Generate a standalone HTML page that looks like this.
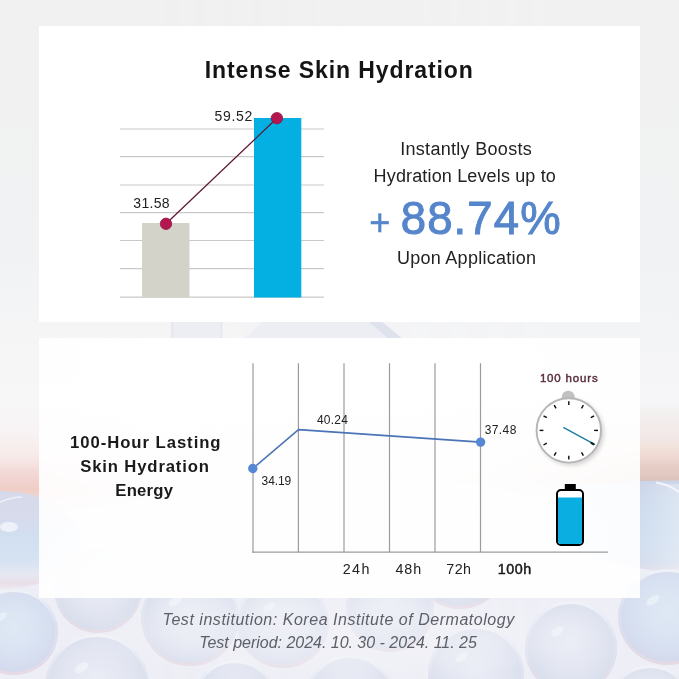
<!DOCTYPE html>
<html lang="en">
<head>
<meta charset="utf-8">
<title>Intense Skin Hydration</title>
<style>
html,body{margin:0;padding:0;}
body{width:679px;height:679px;overflow:hidden;position:relative;background:#f0f0f0;font-family:"Liberation Sans",sans-serif;color:#1a1a1a;}
#bg{position:absolute;left:0;top:0;width:679px;height:679px;}
.card{position:absolute;left:38.6px;width:601.2px;background:#fff;}
#card1{top:25.6px;height:296.2px;}
#card2{top:338.4px;height:259.3px;background:rgba(255,255,255,0.9);}
#gfx{position:absolute;left:0;top:0;width:679px;height:679px;}
.t{position:absolute;white-space:nowrap;line-height:1;}
</style>
</head>
<body>
<svg id="bg" viewBox="0 0 679 679">
  <defs>
    <linearGradient id="bgl" x1="0" y1="0" x2="0" y2="679" gradientUnits="userSpaceOnUse">
      <stop offset="0.0000" stop-color="#f1f1f1"/>
      <stop offset="0.3682" stop-color="#f1f2f3"/>
      <stop offset="0.4418" stop-color="#f3f4f5"/>
      <stop offset="0.4860" stop-color="#f5f5f6"/>
      <stop offset="0.5891" stop-color="#f7f7f8"/>
      <stop offset="0.6333" stop-color="#f8f4f5"/>
      <stop offset="0.6480" stop-color="#f8f0f0"/>
      <stop offset="0.6701" stop-color="#f8ebea"/>
      <stop offset="0.6848" stop-color="#f5e2e0"/>
      <stop offset="0.6951" stop-color="#f3d9d7"/>
      <stop offset="0.7069" stop-color="#f1d3d0"/>
      <stop offset="0.7216" stop-color="#f0cec6"/>
      <stop offset="0.7320" stop-color="#f0d5cf"/>
      <stop offset="0.7541" stop-color="#eeeef6"/>
      <stop offset="1.0000" stop-color="#eeeef6"/>
    </linearGradient>
    <linearGradient id="bgr" x1="0" y1="0" x2="0" y2="679" gradientUnits="userSpaceOnUse">
      <stop offset="0.0000" stop-color="#f1f1f1"/>
      <stop offset="0.3682" stop-color="#f1f2f3"/>
      <stop offset="0.4418" stop-color="#f2f3f5"/>
      <stop offset="0.5891" stop-color="#f6f6f8"/>
      <stop offset="0.6009" stop-color="#f4f2f3"/>
      <stop offset="0.6186" stop-color="#f3eded"/>
      <stop offset="0.6451" stop-color="#f2e7e6"/>
      <stop offset="0.6583" stop-color="#f2e2dc"/>
      <stop offset="0.6701" stop-color="#efdbd4"/>
      <stop offset="0.6848" stop-color="#e7cfc8"/>
      <stop offset="0.7010" stop-color="#e0c8c0"/>
      <stop offset="0.7084" stop-color="#dbc3bb"/>
      <stop offset="0.7158" stop-color="#e0ccc7"/>
      <stop offset="0.7393" stop-color="#eeeef6"/>
      <stop offset="1.0000" stop-color="#eeeef6"/>
    </linearGradient>
    <linearGradient id="fadeh" x1="150" y1="0" x2="560" y2="0" gradientUnits="userSpaceOnUse">
      <stop offset="0" stop-color="#fff" stop-opacity="0"/>
      <stop offset="1" stop-color="#fff" stop-opacity="1"/>
    </linearGradient>
    <mask id="mr" maskUnits="userSpaceOnUse" x="0" y="0" width="679" height="679">
      <rect width="679" height="679" fill="url(#fadeh)"/>
    </mask>
    <radialGradient id="buba" cx="0.5" cy="0.45" r="0.55">
      <stop offset="0" stop-color="#eaedf5"/>
      <stop offset="0.5" stop-color="#e4e7f2"/>
      <stop offset="0.85" stop-color="#dbe0ee"/>
      <stop offset="1" stop-color="#d6dbea"/>
    </radialGradient>
    <radialGradient id="bubc" cx="0.5" cy="0.45" r="0.55">
      <stop offset="0" stop-color="#dfe9f5"/>
      <stop offset="0.5" stop-color="#d9e3f2"/>
      <stop offset="0.85" stop-color="#d5dcee"/>
      <stop offset="1" stop-color="#d4d8eb"/>
    </radialGradient>
    <linearGradient id="rim" x1="0" y1="0" x2="0" y2="1">
      <stop offset="0" stop-color="#ffffff" stop-opacity="0.6"/>
      <stop offset="0.45" stop-color="#f0f0f8" stop-opacity="0.2"/>
      <stop offset="0.8" stop-color="#e9dfe8" stop-opacity="0.5"/>
      <stop offset="1" stop-color="#e9dbe4" stop-opacity="0.85"/>
    </linearGradient>
    <radialGradient id="glow" cx="0.5" cy="0.5" r="0.5">
      <stop offset="0" stop-color="#f4f4f8" stop-opacity="0.55"/>
      <stop offset="0.6" stop-color="#f4f4f8" stop-opacity="0.4"/>
      <stop offset="1" stop-color="#f4f4f8" stop-opacity="0"/>
    </radialGradient>
    <linearGradient id="cen" x1="38" y1="0" x2="640" y2="0" gradientUnits="userSpaceOnUse">
      <stop offset="0" stop-color="#f9f8f9" stop-opacity="0"/>
      <stop offset="0.2" stop-color="#f9f8f9" stop-opacity="0.75"/>
      <stop offset="0.75" stop-color="#f9f8f9" stop-opacity="0.75"/>
      <stop offset="1" stop-color="#f9f8f9" stop-opacity="0"/>
    </linearGradient>
    <linearGradient id="l1" x1="0" y1="492" x2="0" y2="589" gradientUnits="userSpaceOnUse">
      <stop offset="0" stop-color="#d6d9ea"/>
      <stop offset="0.25" stop-color="#d7dbec"/>
      <stop offset="0.45" stop-color="#d1dff1"/>
      <stop offset="0.7" stop-color="#d5e2f2"/>
      <stop offset="0.85" stop-color="#e6e8f2"/>
      <stop offset="0.94" stop-color="#e9dfe8"/>
      <stop offset="1" stop-color="#ede8ef"/>
    </linearGradient>
    <linearGradient id="r1" x1="0" y1="481" x2="0" y2="571" gradientUnits="userSpaceOnUse">
      <stop offset="0" stop-color="#ccd5e8"/>
      <stop offset="0.2" stop-color="#cedbed"/>
      <stop offset="0.6" stop-color="#d0dff0"/>
      <stop offset="0.9" stop-color="#d5dfef"/>
      <stop offset="1" stop-color="#e2dfea"/>
    </linearGradient>
    <linearGradient id="r1h" x1="641" y1="0" x2="679" y2="0" gradientUnits="userSpaceOnUse">
      <stop offset="0" stop-color="#fff" stop-opacity="0"/>
      <stop offset="1" stop-color="#fff" stop-opacity="0.3"/>
    </linearGradient>
  </defs>
  <rect width="679" height="679" fill="url(#bgl)"/>
  <rect width="679" height="679" fill="url(#bgr)" mask="url(#mr)"/>
  <!-- faint product silhouette visible in the gap between cards -->
  <g>
    <rect x="171.5" y="321" width="51" height="18" fill="#eceef4"/>
    <rect x="171.5" y="321" width="1.6" height="18" fill="#e2e5ee"/>
    <rect x="220.5" y="321" width="1.6" height="18" fill="#e4e7ef"/>
    <path d="M244 339 L263 321 L372 321 L401 339 Z" fill="#edeef3"/>
    <path d="M368 321 L381 321 L403 339 L389 339 Z" fill="#dde2ec"/>
  </g>
  <!-- big side bubbles -->
  <ellipse cx="2" cy="540" rx="78" ry="49" fill="url(#l1)"/>
  <ellipse cx="9" cy="527" rx="9" ry="5" fill="#fff" opacity="0.6"/>
  <path d="M0 502 Q 12 497 22 497" stroke="#fff" stroke-width="1.5" fill="none" opacity="0.6"/>
  <path d="M560 486 Q 620 480.5 679 480.5 L679 571 Q 620 573 560 540 Z" fill="url(#r1)"/>
  <rect x="641" y="484" width="38" height="86" fill="url(#r1h)"/>
  <path d="M656 482.5 Q 668 484 679 492" stroke="#fff" stroke-width="2" fill="none" opacity="0.7"/>
  <g>
    <ellipse cx="98" cy="589" rx="44" ry="44" fill="url(#buba)"/>
    <ellipse cx="98" cy="589" rx="42.5" ry="42.5" fill="none" stroke="url(#rim)" stroke-width="3"/>
    <ellipse cx="84.8" cy="573.6" rx="6.6" ry="3.5" fill="#fff" opacity="0.4" transform="rotate(-35 84.8 573.6)"/>
    <ellipse cx="460" cy="563" rx="46" ry="46" fill="url(#buba)"/>
    <ellipse cx="460" cy="563" rx="44.5" ry="44.5" fill="none" stroke="url(#rim)" stroke-width="3"/>
    <ellipse cx="446.2" cy="546.9" rx="6.9" ry="3.7" fill="#fff" opacity="0.4" transform="rotate(-35 446.2 546.9)"/>
    <ellipse cx="14" cy="632" rx="44" ry="43" fill="url(#bubc)"/>
    <ellipse cx="14" cy="632" rx="42.5" ry="41.5" fill="none" stroke="url(#rim)" stroke-width="3"/>
    <ellipse cx="0.8" cy="617.0" rx="6.6" ry="3.4" fill="#fff" opacity="0.4" transform="rotate(-35 0.8 617.0)"/>
    <ellipse cx="668" cy="617" rx="50" ry="48" fill="url(#bubc)"/>
    <ellipse cx="668" cy="617" rx="48.5" ry="46.5" fill="none" stroke="url(#rim)" stroke-width="3"/>
    <ellipse cx="653.0" cy="600.2" rx="7.5" ry="3.8" fill="#fff" opacity="0.4" transform="rotate(-35 653.0 600.2)"/>
    <ellipse cx="190" cy="618" rx="49" ry="48" fill="url(#buba)"/>
    <ellipse cx="190" cy="618" rx="47.5" ry="46.5" fill="none" stroke="url(#rim)" stroke-width="3"/>
    <ellipse cx="175.3" cy="601.2" rx="7.3" ry="3.8" fill="#fff" opacity="0.4" transform="rotate(-35 175.3 601.2)"/>
    <ellipse cx="283" cy="623" rx="46" ry="45" fill="url(#buba)"/>
    <ellipse cx="283" cy="623" rx="44.5" ry="43.5" fill="none" stroke="url(#rim)" stroke-width="3"/>
    <ellipse cx="269.2" cy="607.2" rx="6.9" ry="3.6" fill="#fff" opacity="0.4" transform="rotate(-35 269.2 607.2)"/>
    <ellipse cx="390" cy="608" rx="44" ry="44" fill="url(#buba)"/>
    <ellipse cx="390" cy="608" rx="42.5" ry="42.5" fill="none" stroke="url(#rim)" stroke-width="3"/>
    <ellipse cx="376.8" cy="592.6" rx="6.6" ry="3.5" fill="#fff" opacity="0.4" transform="rotate(-35 376.8 592.6)"/>
    <ellipse cx="571" cy="648" rx="46" ry="47" fill="url(#buba)"/>
    <ellipse cx="571" cy="648" rx="44.5" ry="45.5" fill="none" stroke="url(#rim)" stroke-width="3"/>
    <ellipse cx="557.2" cy="631.5" rx="6.9" ry="3.8" fill="#fff" opacity="0.4" transform="rotate(-35 557.2 631.5)"/>
    <ellipse cx="97" cy="686" rx="52" ry="52" fill="url(#buba)"/>
    <ellipse cx="97" cy="686" rx="50.5" ry="50.5" fill="none" stroke="url(#rim)" stroke-width="3"/>
    <ellipse cx="81.4" cy="667.8" rx="7.8" ry="4.2" fill="#fff" opacity="0.4" transform="rotate(-35 81.4 667.8)"/>
    <ellipse cx="476" cy="674" rx="48" ry="48" fill="url(#buba)"/>
    <ellipse cx="476" cy="674" rx="46.5" ry="46.5" fill="none" stroke="url(#rim)" stroke-width="3"/>
    <ellipse cx="461.6" cy="657.2" rx="7.2" ry="3.8" fill="#fff" opacity="0.4" transform="rotate(-35 461.6 657.2)"/>
    <ellipse cx="235" cy="702" rx="42" ry="42" fill="url(#buba)"/>
    <ellipse cx="235" cy="702" rx="40.5" ry="40.5" fill="none" stroke="url(#rim)" stroke-width="3"/>
    <ellipse cx="222.4" cy="687.3" rx="6.3" ry="3.4" fill="#fff" opacity="0.4" transform="rotate(-35 222.4 687.3)"/>
    <ellipse cx="350" cy="700" rx="45" ry="45" fill="url(#buba)"/>
    <ellipse cx="350" cy="700" rx="43.5" ry="43.5" fill="none" stroke="url(#rim)" stroke-width="3"/>
    <ellipse cx="336.5" cy="684.2" rx="6.8" ry="3.6" fill="#fff" opacity="0.4" transform="rotate(-35 336.5 684.2)"/>
    <ellipse cx="650" cy="707" rx="42" ry="42" fill="url(#buba)"/>
    <ellipse cx="650" cy="707" rx="40.5" ry="40.5" fill="none" stroke="url(#rim)" stroke-width="3"/>
    <ellipse cx="637.4" cy="692.3" rx="6.3" ry="3.4" fill="#fff" opacity="0.4" transform="rotate(-35 637.4 692.3)"/>
  </g>
  <ellipse cx="338" cy="634" rx="260" ry="48" fill="url(#glow)"/>
  <rect x="38" y="338" width="602" height="260" fill="url(#cen)"/>
</svg>
<div class="card" id="card1"></div>
<div class="card" id="card2"></div>
<svg id="gfx" viewBox="0 0 679 679">
  <!-- bar chart grid -->
  <g stroke="#c9c9c9" stroke-width="1.1">
    <line x1="120" y1="129.0" x2="324" y2="129.0"/>
    <line x1="120" y1="156.6" x2="324" y2="156.6"/>
    <line x1="120" y1="185.0" x2="324" y2="185.0"/>
    <line x1="120" y1="212.6" x2="324" y2="212.6"/>
    <line x1="120" y1="240.5" x2="324" y2="240.5"/>
    <line x1="120" y1="268.6" x2="324" y2="268.6"/>
    <line x1="120" y1="297.1" x2="324" y2="297.1"/>
  </g>
  <rect x="142" y="223" width="47.5" height="74.5" fill="#d3d3c9"/>
  <rect x="254" y="118" width="47.3" height="179.5" fill="#04b0e2"/>
  <line x1="166" y1="223.8" x2="276.9" y2="118.2" stroke="#5c1634" stroke-width="1.25"/>
  <circle cx="166" cy="223.8" r="5.7" fill="#b4174f" stroke="#951444" stroke-width="0.8"/>
  <circle cx="276.9" cy="118.2" r="5.7" fill="#b4174f" stroke="#951444" stroke-width="0.8"/>

  <!-- line chart -->
  <g stroke="#9b9b9f" stroke-width="1.2">
    <line x1="253" y1="363.2" x2="253" y2="552.4"/>
    <line x1="298.4" y1="363.2" x2="298.4" y2="552.4"/>
    <line x1="344" y1="363.2" x2="344" y2="552.4"/>
    <line x1="389.5" y1="363.2" x2="389.5" y2="552.4"/>
    <line x1="435" y1="363.2" x2="435" y2="552.4"/>
    <line x1="480.5" y1="363.2" x2="480.5" y2="552.4"/>
    <line x1="252" y1="552.1" x2="608" y2="552.1"/>
  </g>
  <polyline points="252.9,468.5 298.5,429.6 480.6,442.1" fill="none" stroke="#4a73b8" stroke-width="1.6" stroke-linejoin="round"/>
  <circle cx="252.8" cy="468.5" r="4.7" fill="#5686d6"/>
  <circle cx="480.6" cy="442.1" r="4.7" fill="#5686d6"/>

  <!-- clock -->
  <defs>
    <filter id="blur3" x="-30%" y="-30%" width="160%" height="160%"><feGaussianBlur stdDeviation="2.2"/></filter>
  </defs>
  <circle cx="571" cy="432.6" r="33" fill="#000" opacity="0.16" filter="url(#blur3)"/>
  <path d="M561.8 399 V397.1 a6.45 6.45 0 0 1 12.9 0 V399 Z" fill="#c1c1c1"/>
  <circle cx="568.8" cy="430.4" r="32.2" fill="#fff" stroke="#b6b6b6" stroke-width="1.9"/>
  <g stroke="#0a0a0a" stroke-width="1.4" transform="translate(568.8 430.4)">
      <line x1="0" y1="-29.2" x2="0" y2="-25.4" transform="rotate(0)"/>
      <line x1="0" y1="-29.2" x2="0" y2="-25.4" transform="rotate(30)"/>
      <line x1="0" y1="-29.2" x2="0" y2="-25.4" transform="rotate(60)"/>
      <line x1="0" y1="-29.2" x2="0" y2="-25.4" transform="rotate(90)"/>
      <line x1="0" y1="-29.2" x2="0" y2="-25.4" transform="rotate(120)"/>
      <line x1="0" y1="-29.2" x2="0" y2="-25.4" transform="rotate(150)"/>
      <line x1="0" y1="-29.2" x2="0" y2="-25.4" transform="rotate(180)"/>
      <line x1="0" y1="-29.2" x2="0" y2="-25.4" transform="rotate(210)"/>
      <line x1="0" y1="-29.2" x2="0" y2="-25.4" transform="rotate(240)"/>
      <line x1="0" y1="-29.2" x2="0" y2="-25.4" transform="rotate(270)"/>
      <line x1="0" y1="-29.2" x2="0" y2="-25.4" transform="rotate(300)"/>
      <line x1="0" y1="-29.2" x2="0" y2="-25.4" transform="rotate(330)"/>
  </g>
  <line x1="563.8" y1="427.6" x2="594.1" y2="444.1" stroke="#187c9f" stroke-width="1.3" stroke-linecap="round"/>
  <line x1="591" y1="442.4" x2="594.1" y2="444.1" stroke="#0c1a22" stroke-width="1.3" stroke-linecap="round"/>

  <!-- battery -->
  <rect x="564.8" y="484" width="11" height="7" fill="#000"/>
  <rect x="557" y="490" width="26" height="55" rx="4" ry="4" fill="#fff" stroke="#000" stroke-width="2"/>
  <path d="M558 497.5 H582 V541 a3 3 0 0 1 -3 3 H561 a3 3 0 0 1 -3 -3 Z" fill="#0aaee1"/>
</svg>

<div class="t" style="left:204.7px;top:58.5px;font-size:23px;font-weight:bold;letter-spacing:0.9px;color:#141414;">Intense Skin Hydration</div>
<div class="t" style="left:133.3px;top:196px;font-size:14px;letter-spacing:0.3px;color:#222;">31.58</div>
<div class="t" style="left:214.5px;top:109.3px;font-size:14px;letter-spacing:0.7px;color:#222;">59.52</div>
<div class="t" style="left:400.2px;top:140px;font-size:18px;letter-spacing:0.3px;color:#222;">Instantly Boosts</div>
<div class="t" style="left:373.6px;top:167px;font-size:18px;letter-spacing:0.15px;color:#222;">Hydration Levels up to</div>
<div class="t" style="left:369.2px;top:205.2px;font-size:36px;letter-spacing:1.5px;color:#5585cb;-webkit-text-stroke:0.5px #5585cb;">+</div>
<div class="t" style="left:400.8px;top:195.8px;font-size:45.5px;letter-spacing:1.1px;color:#5585cb;-webkit-text-stroke:1px #5585cb;">88.74%</div>
<div class="t" style="left:397.0px;top:248.6px;font-size:18px;letter-spacing:0.26px;color:#222;">Upon Application</div>
<div class="t" style="left:70.0px;top:434.8px;font-size:16.7px;font-weight:bold;letter-spacing:0.95px;color:#1a1a1a;">100-Hour Lasting</div>
<div class="t" style="left:80.2px;top:459px;font-size:16.7px;font-weight:bold;letter-spacing:0.85px;color:#1a1a1a;">Skin Hydration</div>
<div class="t" style="left:115.3px;top:483.3px;font-size:16.7px;font-weight:bold;letter-spacing:0.24px;color:#1a1a1a;">Energy</div>
<div class="t" style="left:317.0px;top:414.1px;font-size:12px;letter-spacing:0.2px;color:#222;">40.24</div>
<div class="t" style="left:261.6px;top:474.7px;font-size:12px;letter-spacing:-0.1px;color:#222;">34.19</div>
<div class="t" style="left:484.7px;top:424.4px;font-size:12px;letter-spacing:0.4px;color:#222;">37.48</div>
<div class="t" style="left:342.7px;top:562px;font-size:14.3px;letter-spacing:1.4px;color:#222;">24h</div>
<div class="t" style="left:395.4px;top:562px;font-size:14.3px;letter-spacing:1.0px;color:#222;">48h</div>
<div class="t" style="left:446.3px;top:562px;font-size:14.3px;letter-spacing:0.4px;color:#222;">72h</div>
<div class="t" style="left:497.8px;top:562px;font-size:14.3px;letter-spacing:0.5px;color:#1a1a1a;-webkit-text-stroke:0.5px #1a1a1a;">100h</div>
<div class="t" style="left:539.9px;top:372.9px;font-size:11.5px;letter-spacing:0.83px;color:#5b2f3f;-webkit-text-stroke:0.45px #5b2f3f;">100 hours</div>
<div class="t" style="left:162.6px;top:611.8px;font-size:16px;font-style:italic;letter-spacing:0.53px;color:#5d6068;">Test institution: Korea Institute of Dermatology</div>
<div class="t" style="left:199.2px;top:634.8px;font-size:16px;font-style:italic;letter-spacing:-0.02px;color:#5d6068;">Test period: 2024. 10. 30 - 2024. 11. 25</div>
</body>
</html>
